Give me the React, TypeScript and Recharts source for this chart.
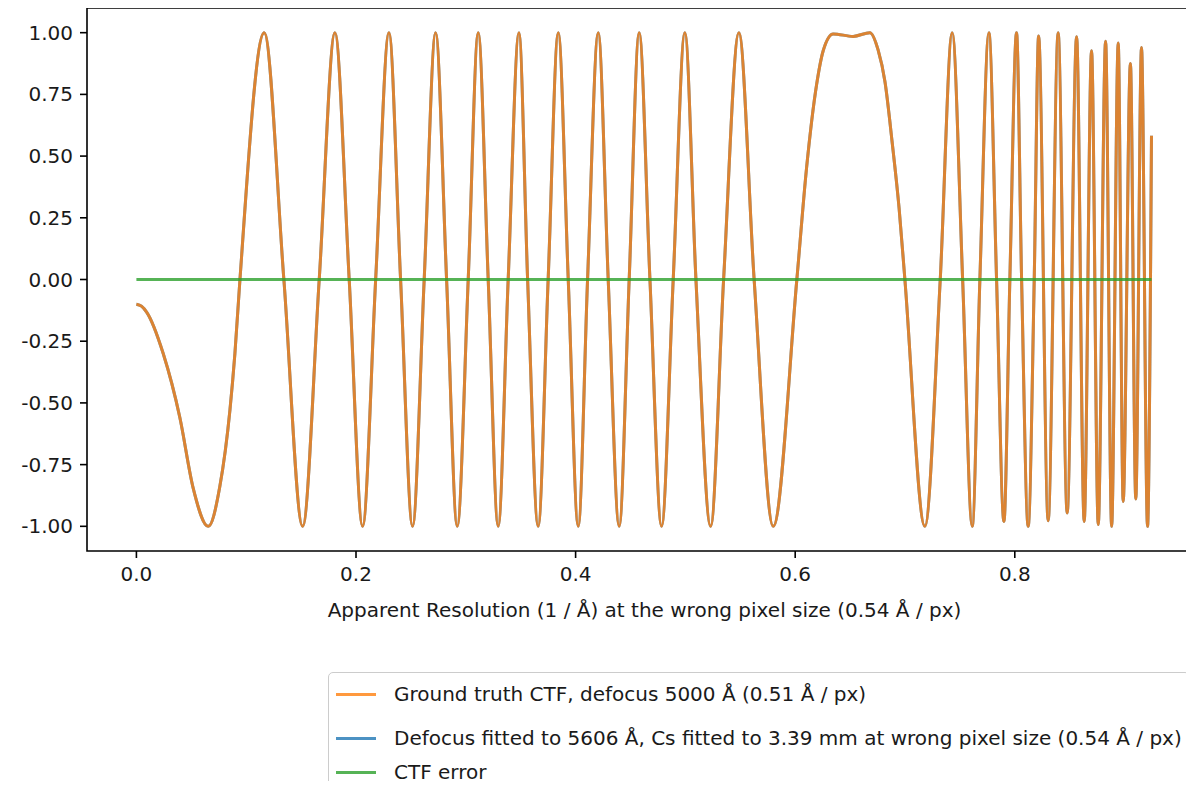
import { LineChart, Line, XAxis, YAxis, ReferenceArea } from "recharts";

const freq = [
  0.0, 0.0046, 0.0093, 0.0244, 0.0396, 0.0517, 0.0654, 0.076, 0.0852, 0.0897, 0.0943,
  0.1164, 0.1343, 0.1514, 0.1665, 0.1808, 0.1938, 0.206, 0.2179, 0.23, 0.2406,
  0.2515, 0.2621, 0.2725, 0.2825, 0.2922, 0.3022, 0.3113, 0.3204, 0.3295, 0.3386,
  0.3484, 0.3563, 0.3659, 0.375, 0.3842, 0.3933, 0.4024, 0.4109, 0.4206, 0.4297,
  0.4397, 0.4488, 0.4579, 0.4677, 0.4783, 0.4889, 0.4995, 0.5096, 0.523, 0.5348,
  0.5487, 0.5626, 0.58, 0.6015, 0.6104, 0.6195, 0.6255, 0.6346, 0.6528, 0.668,
  0.6755, 0.6818, 0.6882, 0.6946, 0.6999, 0.7181, 0.7321, 0.743, 0.7525, 0.7612,
  0.7682, 0.7764, 0.7834, 0.7901, 0.7955, 0.8016, 0.8062, 0.8122, 0.8177, 0.8217,
  0.8304, 0.8395, 0.8477, 0.8563, 0.8632, 0.8699, 0.876, 0.8827, 0.8882, 0.8942,
  0.8987, 0.9053, 0.9102, 0.9154, 0.9209, 0.9245,
];

const ctfTruth = [
  -0.1, -0.108, -0.132, -0.3, -0.56, -0.845, -1.0, -0.838, -0.528, -0.3, 0.0,
  1.0, 0.0, -1.0, 0.0, 1.0, 0.0, -1.0, 0.0, 1.0, 0.0,
  -1.0, 0.0, 1.0, 0.0, -1.0, 0.0, 1.0, 0.0, -1.0, 0.0,
  1.0, 0.0, -1.0, 0.0, 1.0, 0.0, -1.0, 0.0, 1.0, 0.0,
  -1.0, 0.0, 1.0, 0.0, -1.0, 0.0, 1.0, 0.0, -1.0, 0.0,
  1.0, 0.0, -1.0, 0.0, 0.454, 0.79, 0.927, 0.995, 0.985, 1.0,
  0.93, 0.8, 0.56, 0.29, 0.0, -1.0, 0.0, 1.0, 0.0, -1.0,
  0.0, 1.0, 0.0, -0.98, 0.0, 1.0, 0.0, -1.0, 0.0, 0.987,
  -0.977, 1.0, -0.946, 0.984, -0.98, 0.927, -0.993, 0.965, -1.0, 0.958,
  -0.899, 0.875, -0.889, 0.94, -1.0, 0.582,
];

// the fitted curve lies exactly under the ground truth
const ctfFitted = ctfTruth;

const errorFreq = [0.0, 0.9245];
const errorValues = [0.0, 0.0];

const xTicks = [0, 0.2, 0.4, 0.6, 0.8];
const yTicks = [-1, -0.75, -0.5, -0.25, 0, 0.25, 0.5, 0.75, 1];

const seriesNames = [
  "Ground truth CTF, defocus 5000 Å (0.51 Å / px)",
  "Defocus fitted to 5606 Å, Cs fitted to 3.39 mm at wrong pixel size (0.54 Å / px)",
  "CTF error",
];
const seriesColors = ["#ff7f0e", "#1f77b4", "#2ca02c"];

const xLabel = "Apparent Resolution (1 / Å) at the wrong pixel size (0.54 Å / px)";

const FONT = "'DejaVu Sans', sans-serif";
const X_DOMAIN: [number, number] = [-0.045, 0.9705];
const Y_DOMAIN: [number, number] = [-1.1, 1.1];

const truthData = freq.map((f, i) => ({ f, v: ctfTruth[i] }));
const fittedData = freq.map((f, i) => ({ f, v: ctfFitted[i] }));
const errorData = errorFreq.map((f, i) => ({ f, v: errorValues[i] }));

const legendRowCenters = [21, 65, 99];

const App = () => {
  return (
    <div
      style={{
        position: "relative",
        width: 1194,
        height: 789,
        margin: -8,
        overflow: "hidden",
        background: "#fff",
        fontFamily: FONT,
      }}
    >
      <LineChart
        width={1212}
        height={789}
        margin={{ top: 8, right: 10, bottom: 0, left: 0 }}
      >
        <XAxis
          dataKey="f"
          type="number"
          domain={X_DOMAIN}
          allowDataOverflow
          ticks={xTicks}
          interval={0}
          tickFormatter={(v: number) => v.toFixed(1)}
          height={238}
          axisLine={false}
          tickSize={7}
          tickMargin={9}
          tickLine={{ stroke: "#000", strokeWidth: 1.6 }}
          tick={{ fontSize: 20, fill: "#1a1a1a", fontFamily: FONT }}
          label={{
            value: xLabel,
            position: "insideTop",
            offset: 52,
            fontSize: 20,
            fill: "#1a1a1a",
            fontFamily: FONT,
          }}
        />
        <YAxis
          type="number"
          domain={Y_DOMAIN}
          allowDataOverflow
          ticks={yTicks}
          interval={0}
          tickFormatter={(v: number) => v.toFixed(2)}
          width={87}
          axisLine={false}
          tickSize={7}
          tickMargin={7}
          tickLine={{ stroke: "#000", strokeWidth: 1.6 }}
          tick={{ fontSize: 20, fill: "#1a1a1a", fontFamily: FONT }}
        />
        <ReferenceArea
          x1={X_DOMAIN[0]}
          x2={X_DOMAIN[1]}
          y1={Y_DOMAIN[0]}
          y2={Y_DOMAIN[1]}
          fill="none"
          stroke="#000"
          strokeWidth={1.6}
          ifOverflow="visible"
        />
        <Line
          data={fittedData}
          dataKey="v"
          type="monotone"
          stroke={seriesColors[1]}
          strokeOpacity={0.8}
          strokeWidth={3}
          dot={false}
          activeDot={false}
          isAnimationActive={false}
        />
        <Line
          data={truthData}
          dataKey="v"
          type="monotone"
          stroke={seriesColors[0]}
          strokeOpacity={0.8}
          strokeWidth={3}
          dot={false}
          activeDot={false}
          isAnimationActive={false}
        />
        <Line
          data={errorData}
          dataKey="v"
          type="linear"
          stroke={seriesColors[2]}
          strokeOpacity={0.8}
          strokeWidth={3}
          dot={false}
          activeDot={false}
          isAnimationActive={false}
        />
      </LineChart>

      {/* legend box, sits below the axes and runs off the bottom of the figure */}
      <div
        style={{
          position: "absolute",
          left: 328,
          top: 672,
          width: 862,
          height: 140,
          border: "1.5px solid #cccccc",
          borderRadius: 5,
          background: "#fff",
          boxSizing: "border-box",
        }}
      >
        {seriesNames.map((name, i) => (
          <div
            key={name}
            style={{
              position: "absolute",
              left: 7,
              top: legendRowCenters[i] - 15,
              height: 30,
              display: "flex",
              alignItems: "center",
              whiteSpace: "nowrap",
            }}
          >
            <div
              style={{
                width: 40,
                height: 3,
                background: seriesColors[i],
                opacity: 0.8,
                marginRight: 18,
              }}
            />
            <span style={{ fontSize: 20, color: "#1a1a1a", lineHeight: "30px" }}>{name}</span>
          </div>
        ))}
      </div>
    </div>
  );
};

export default App;
